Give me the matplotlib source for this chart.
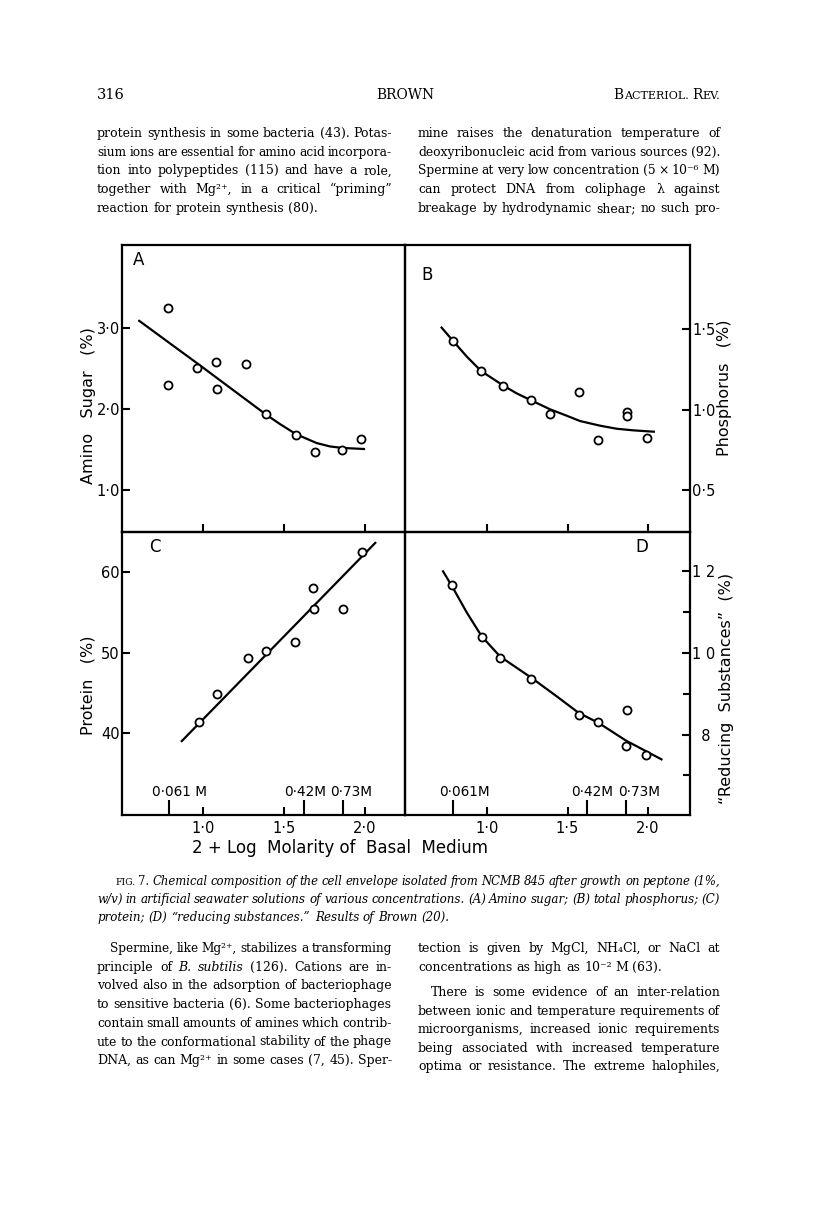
import matplotlib
matplotlib.use("Agg")
import matplotlib.pyplot as plt
import numpy as np

# ---------------- data ----------------
A_x = [0.784, 0.784, 0.963, 1.079, 1.087, 1.264, 1.386, 1.573, 1.691, 1.860, 1.974]
A_y = [3.247, 2.300, 2.506, 2.588, 2.247, 2.556, 1.938, 1.679, 1.469, 1.498, 1.625]
A_fit_x = [0.598, 0.980, 1.386, 1.474, 1.573, 1.701, 1.784, 1.860, 2.000]
A_fit_y = [3.100, 2.540, 1.935, 1.815, 1.690, 1.580, 1.538, 1.520, 1.506]

B_x = [0.784, 0.961, 1.100, 1.272, 1.391, 1.570, 1.690, 1.869, 1.869, 1.994]
B_y = [1.429, 1.240, 1.149, 1.060, 0.973, 1.111, 0.811, 0.987, 0.960, 0.821]
B_fit_x = [0.709, 0.784, 0.872, 0.961, 1.100, 1.183, 1.272, 1.391, 1.495, 1.578,
           1.703, 1.807, 1.910, 2.046]
B_fit_y = [1.516, 1.429, 1.329, 1.240, 1.149, 1.101, 1.058, 1.002, 0.962, 0.929,
           0.900, 0.881, 0.871, 0.862]

C_x = [0.973, 1.087, 1.275, 1.386, 1.569, 1.680, 1.687, 1.866, 1.983]
C_y = [41.44, 44.86, 49.29, 50.20, 51.30, 57.96, 55.47, 55.47, 62.50]
C_fit_x = [0.862, 2.068]
C_fit_y = [38.96, 63.70]

D_x = [0.779, 0.965, 1.079, 1.271, 1.570, 1.692, 1.870, 1.866, 1.990]
D_y = [11.67, 10.38, 9.88, 9.37, 8.49, 8.30, 8.59, 7.71, 7.50]
D_fit_x = [0.719, 0.779, 0.872, 0.965, 1.079, 1.271, 1.431, 1.570, 1.692, 1.866, 2.093]
D_fit_y = [12.02, 11.63, 10.98, 10.40, 9.91, 9.40, 8.94, 8.53, 8.29, 7.85, 7.38]

x_ticks = [1.0, 1.5, 2.0]
x_ticklabels = ["1·0", "1·5", "2·0"]
molarities = [0.061, 0.42, 0.73]
mol_labels_C = ["0·061 M", "0·42M", "0·73M"]
mol_labels_D = ["0·061M", "0·42M", "0·73M"]

A_yticks = [1.0, 2.0, 3.0]
A_yticklabels = ["1·0", "2·0", "3·0"]
B_yticks = [0.5, 1.0, 1.5]
B_yticklabels = ["0·5", "1·0", "1·5"]
C_yticks = [40, 50, 60]
C_yticklabels = ["40", "50", "60"]
D_yticks = [8, 10, 12]
D_yticklabels = ["\u20078", "1 0", "1 2"]
D_yminor = [7, 9, 11]

ylabels = ["Amino   Sugar   (%)", "Phosphorus   (%)", "Protein   (%)",
           "\u201cReducing  Substances\u201d  (%)"]
panel_letters = ["A", "B", "C", "D"]
xlabel = "2 + Log  Molarity of  Basal  Medium"

header_left = "316"
header_mid = "BROWN"

text_top_left = [
    "protein synthesis in some bacteria (43). Potas-",
    "sium ions are essential for amino acid incorpora-",
    "tion into polypeptides (115) and have a role,",
    "together with Mg\u00b2\u207a, in a critical \u201cpriming\u201d",
    "reaction for protein synthesis (80).",
]
text_top_right = [
    "mine raises the denaturation temperature of",
    "deoxyribonucleic acid from various sources (92).",
    "Spermine at very low concentration (5 \u00d7 10\u207b\u2076 M)",
    "can protect DNA from coliphage \u03bb against",
    "breakage by hydrodynamic shear; no such pro-",
]
caption = [
    "_FIG._ _7._ Chemical composition of the cell envelope isolated from NCMB 845 after growth on peptone (1%,",
    "w/v) in artificial seawater solutions of various concentrations. (A) Amino sugar; (B) total phosphorus; (C)",
    "protein; (D) \u201creducing substances.\u201d Results of Brown (20).",
]
text_bot_left = [
    "Spermine, like Mg\u00b2\u207a, stabilizes a transforming",
    "principle of _B._ _subtilis_ (126). Cations are in-",
    "volved also in the adsorption of bacteriophage",
    "to sensitive bacteria (6). Some bacteriophages",
    "contain small amounts of amines which contrib-",
    "ute to the conformational stability of the phage",
    "DNA, as can Mg\u00b2\u207a in some cases (7, 45). Sper-",
]
text_bot_right = [
    "tection is given by MgCl, NH\u2084Cl, or NaCl at",
    "concentrations as high as 10\u207b\u00b2 M (63).",
    "There is some evidence of an inter-relation",
    "between ionic and temperature requirements of",
    "microorganisms, increased ionic requirements",
    "being associated with increased temperature",
    "optima or resistance. The extreme halophiles,",
]

# ---------------- figure ----------------
W, H = 816, 1208
SANS = ["DejaVu Sans"]
SERIF = ["DejaVu Serif", "DejaVu Sans"]
plt.rcParams["font.family"] = SANS

fig = plt.figure(figsize=(W / 100, H / 100), dpi=100, facecolor="white")
page = fig.add_axes([0, 0, 1, 1])
page.set_xlim(0, W)
page.set_ylim(H, 0)
page.axis("off")
renderer = fig.canvas.get_renderer()


def rect(l, t, r, b):
    return [l / W, 1 - b / H, (r - l) / W, (b - t) / H]


def put_line(line, x0, y, x1=None, size=9.0, base="normal", min_gap=3.2):
    toks = line.split(" ")
    specs = []
    for tok in toks:
        style = base
        rel = 1.0
        if len(tok) > 2 and tok.startswith("_") and tok.endswith("_"):
            tok = tok[1:-1]
            style = "normal" if base == "italic" else "italic"
        if tok == "FIG.":
            rel = 0.8
        specs.append((tok, style, rel))

    def build(sz):
        arts = [page.text(0, y, t, fontsize=sz * r, style=st, family=SERIF,
                          va="baseline", ha="left") for t, st, r in specs]
        return arts, [a.get_window_extent(renderer).width for a in arts]

    arts, widths = build(size)
    n = len(arts)
    if x1 is not None and n > 1:
        avail = x1 - x0 - min_gap * (n - 1)
        if sum(widths) > avail:
            for a in arts:
                a.remove()
            arts, widths = build(size * avail / sum(widths))
        gap = (x1 - x0 - sum(widths)) / (n - 1)
    else:
        gap = 0.318 * size * 100 / 72
    x = x0
    for a, w in zip(arts, widths):
        a.set_x(x)
        x += w + gap


BODY = 9.0
CAP = 8.6
LH = 18.7

# header
page.text(97, 99, header_left, fontsize=10.5, family=SERIF, va="baseline", ha="left")
page.text(405, 99, header_mid, fontsize=10, family=SERIF, va="baseline", ha="center")
pieces = [("B", 10), ("ACTERIOL.", 8), (" ", 8), ("R", 10), ("EV.", 8)]
arts = [page.text(0, 99, s, fontsize=sz, family=SERIF, va="baseline") for s, sz in pieces]
ws = [a.get_window_extent(renderer).width for a in arts]
x = 720 - sum(ws)
for a, w in zip(arts, ws):
    a.set_x(x)
    x += w

# top paragraphs
for i, ln in enumerate(text_top_left):
    put_line(ln, 97, 137 + i * LH, None if i == 4 else 392, BODY)
for i, ln in enumerate(text_top_right):
    put_line(ln, 418, 137 + i * LH, 720, BODY)

# caption
for i, ln in enumerate(caption):
    put_line(ln, 115 if i == 0 else 97, 885 + i * 18, None if i == 2 else 720, CAP, "italic")

# bottom paragraphs
for i, ln in enumerate(text_bot_left):
    put_line(ln, 110 if i == 0 else 97, 952 + i * LH, 392, BODY)
ys_r = [952, 971, 996, 1015, 1033, 1052, 1070]
for i, ln in enumerate(text_bot_right):
    put_line(ln, 431 if i == 2 else 418, ys_r[i], None if i == 1 else 720, BODY)

# ---------------- chart panels ----------------
axA = fig.add_axes(rect(122, 245, 405, 532))
axB = fig.add_axes(rect(405, 245, 690, 532))
axC = fig.add_axes(rect(122, 532, 405, 815))
axD = fig.add_axes(rect(405, 532, 690, 815))

XL_L = (0.497, 2.247)
XL_R = (0.485, 2.265)
panels = [
    (axA, A_x, A_y, A_fit_x, A_fit_y, XL_L, (0.48, 4.03), A_yticks, A_yticklabels, "left"),
    (axB, B_x, B_y, B_fit_x, B_fit_y, XL_R, (0.238, 2.025), B_yticks, B_yticklabels, "right"),
    (axC, C_x, C_y, C_fit_x, C_fit_y, XL_L, (29.9, 64.95), C_yticks, C_yticklabels, "left"),
    (axD, D_x, D_y, D_fit_x, D_fit_y, XL_R, (6.03, 12.96), D_yticks, D_yticklabels, "right"),
]
for ax, px, py, fx, fy, xl, yl, yt, ytl, side in panels:
    ax.set_facecolor("none")
    ax.plot(fx, fy, "-", color="black", lw=1.6, zorder=2, solid_capstyle="butt",
            solid_joinstyle="round")
    ax.plot(px, py, "o", mfc="white", mec="black", ms=5.8, mew=1.3, zorder=3,
            clip_on=False)
    ax.set_xlim(*xl)
    ax.set_ylim(*yl)
    for s in ax.spines.values():
        s.set_linewidth(1.6)
    ax.set_xticks(x_ticks)
    ax.set_yticks(yt)
    ax.set_yticklabels(ytl)
    ax.tick_params(which="both", direction="in", width=1.5, labelsize=10.5, colors="black")
    ax.tick_params(axis="y", which="major", length=6, pad=1.5)
    ax.tick_params(axis="x", which="major", length=6, pad=4, top=False)
    if side == "right":
        ax.yaxis.tick_right()
        ax.tick_params(axis="y", left=False, right=True)
    else:
        ax.tick_params(axis="y", left=True, right=False)

for ax in (axA, axB):
    ax.set_xticklabels([])

for ax, labs, offs in ((axC, mol_labels_C, [11, 1, 8]), (axD, mol_labels_D, [11, 5, 13])):
    mx = [2 + np.log10(m) for m in molarities]
    ax.set_xticks(mx, minor=True)
    ax.tick_params(axis="x", which="minor", length=11, width=1.5, top=False)
    ax.set_xticklabels(x_ticklabels)
    for xv, lab, dx in zip(mx, labs, offs):
        ax.annotate(lab, xy=(xv, 0.08), xycoords=("data", "axes fraction"),
                    xytext=(dx, 0), textcoords="offset pixels",
                    ha="center", va="center", fontsize=9.8)

axD.set_yticks(D_yminor, minor=True)
axD.tick_params(axis="y", which="minor", length=5, width=1.5, left=False, right=True)

# panel letters
for ax, lab, (lx, ly) in zip((axA, axB, axC, axD), panel_letters,
                             [(139, 260), (427, 275), (155, 547), (642, 547)]):
    ax.text(lx, ly, lab, transform=page.transData, fontsize=12,
            ha="center", va="center")

# axis labels
for lab, (lx, ly) in zip(ylabels, [(89, 406), (725, 388), (88, 685), (727, 688)]):
    fig.text(lx / W, 1 - ly / H, lab, rotation=90, fontsize=11.5,
             ha="center", va="center")
fig.text(340 / W, 1 - 848 / H, xlabel, fontsize=12, ha="center", va="center")

fig.savefig("out.png", dpi=100, facecolor="white")
